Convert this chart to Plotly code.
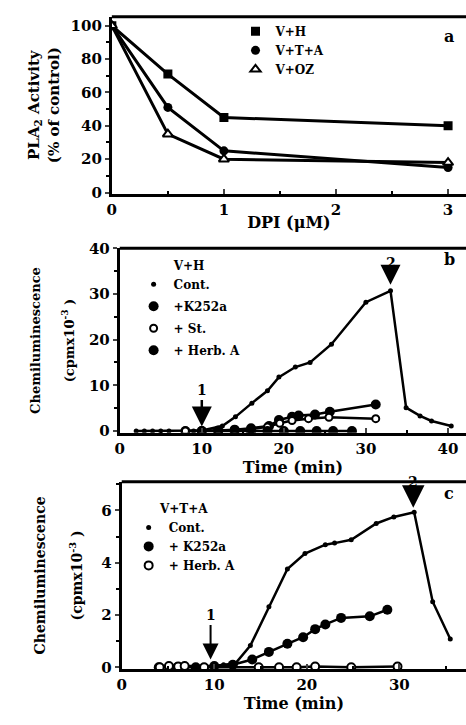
import plotly.graph_objects as go

# ---------- Panel a: PLA2 activity vs DPI ----------
dpi = [0, 0.5, 1, 3]
a_vh = [100, 71, 45, 40]
a_vta = [100, 51, 25, 15]
a_voz = [100, 35, 20, 18]

# ---------- Panel b: V+H chemiluminescence ----------
b_cont_t = [2, 3, 4, 5, 6, 8, 9, 10, 12.5, 14.1, 16.1, 18.0, 19.4, 21.4, 23.2, 25.8, 30.0, 33.0, 34.9, 36.6, 38.0, 40.4]
b_cont_v = [0, 0, 0, 0, 0, 0, 0, 0.1, 1.1, 3.1, 6.1, 8.8, 11.8, 14.0, 15.0, 19.0, 28.2, 30.7, 5.1, 3.3, 2.2, 1.1]
b_k252a_t = [8, 10, 12, 14, 16, 18.2, 19.4, 21.0, 21.8, 23.8, 25.6, 31.2]
b_k252a_v = [0, 0, 0.1, 0.3, 0.6, 1.1, 2.4, 3.1, 3.4, 3.6, 4.2, 5.8]
b_st_t = [8, 10, 12, 14, 16, 18, 19.5, 21, 23, 25.5, 31.2]
b_st_v = [0, 0, 0, 0.1, 0.4, 0.9, 1.7, 2.3, 2.7, 3.0, 2.7]
b_herb_t = [10, 12, 14, 16, 18, 20, 22, 24, 26, 28.3]
b_herb_v = [0, 0, 0, 0, 0, 0, 0, 0, 0, 0]

# ---------- Panel c: V+T+A chemiluminescence ----------
c_cont_t = [4, 5, 6, 7, 8, 9, 10, 11, 12.3, 13.9, 15.9, 17.9, 19.8, 22.0, 23.0, 24.8, 27.5, 29.4, 31.6, 33.6, 35.5]
c_cont_v = [0.05, 0.05, 0.05, 0.05, 0.05, 0.05, 0.05, 0.1, 0.15, 0.83, 2.32, 3.76, 4.35, 4.69, 4.75, 4.88, 5.5, 5.75, 5.93, 2.51, 1.08]
c_k252a_t = [4, 6, 8, 10, 12, 14.1, 15.9, 17.9, 19.6, 20.9, 22.0, 23.7, 26.8, 28.7]
c_k252a_v = [0, 0, 0, 0.05, 0.1, 0.3, 0.59, 0.9, 1.15, 1.46, 1.64, 1.89, 1.95, 2.2]
c_herb_t = [4.1, 5.1, 6.1, 6.8, 8.9, 14.8, 17.0, 18.9, 20.9, 24.8, 29.8]
c_herb_v = [0, 0.05, 0.03, 0.05, 0, 0, 0, 0, 0.03, 0, 0.03]

# tick values / labels
a_xticks = [0, 1, 2, 3]
a_yticks = [0, 20, 40, 60, 80, 100]
b_xticks = [0, 10, 20, 30, 40]
b_yticks = [0, 10, 20, 30, 40]
c_xticks = [0, 10, 20, 30]
c_yticks = [0, 2, 4, 6]

FONT = "DejaVu Serif"
BLK = "black"
W, H = 466, 725

fig = go.Figure()


def add_series(x, y, name, xa, ya, legend, symbol, size, lw, open_=False):
    fig.add_trace(go.Scatter(x=x, y=y, mode="lines", line=dict(color=BLK, width=lw),
                             xaxis=xa, yaxis=ya, showlegend=False, hoverinfo="skip"))
    fig.add_trace(go.Scatter(
        x=x, y=y, mode="markers", name=name, legend=legend, legendgroup=legend + name,
        marker=dict(symbol=symbol, size=size, color="white" if open_ else BLK,
                    line=dict(color=BLK, width=2 if open_ else 0)),
        xaxis=xa, yaxis=ya))


# panel a
add_series(dpi, a_vh, "V+H", "x", "y", "legend", "square", 9, 3)
add_series(dpi, a_vta, "V+T+A", "x", "y", "legend", "circle", 9, 3)
add_series(dpi, a_voz, "V+OZ", "x", "y", "legend", "triangle-up", 9, 3, open_=True)

# panel b
add_series(b_cont_t, b_cont_v, "Cont.", "x2", "y2", "legend2", "circle", 5, 2.5)
add_series(b_k252a_t, b_k252a_v, "+K252a", "x2", "y2", "legend2", "circle", 10, 2.5)
add_series(b_st_t, b_st_v, "+ St.", "x2", "y2", "legend2", "circle", 7, 2.5, open_=True)
add_series(b_herb_t, b_herb_v, "+ Herb. A", "x2", "y2", "legend2", "circle", 10, 2.5)

# panel c
add_series(c_cont_t, c_cont_v, "Cont.", "x3", "y3", "legend3", "circle", 5, 2.5)
add_series(c_k252a_t, c_k252a_v, "+ K252a", "x3", "y3", "legend3", "circle", 10, 2.5)
add_series(c_herb_t, c_herb_v, "+ Herb. A", "x3", "y3", "legend3", "circle", 8, 2.5, open_=True)


def px_x(p):
    return p / W


def px_y(p):
    return 1 - p / H


tickfont = dict(family=FONT, size=15, color=BLK, weight="bold")
titlefont = dict(family=FONT, size=16, color=BLK, weight="bold")


def xax(dom, rng, ticks, title, minor_dt, anchor):
    return dict(domain=dom, range=rng, tickvals=ticks, ticks="inside", ticklen=5, tickwidth=2,
                showline=True, linewidth=3, linecolor=BLK, showgrid=False, zeroline=False,
                tickfont=tickfont, anchor=anchor,
                minor=dict(dtick=minor_dt, ticks="inside", ticklen=3, tickwidth=1.5, tickcolor=BLK),
                title=dict(text=title, font=titlefont, standoff=0))


def yax(dom, rng, ticks, title, minor_dt, anchor, standoff, tsize):
    return dict(domain=dom, range=rng, tickvals=ticks, ticks="outside", ticklen=4, tickwidth=2,
                showline=True, linewidth=3, linecolor=BLK, showgrid=False, zeroline=False,
                tickfont=tickfont, anchor=anchor,
                minor=dict(dtick=minor_dt, ticks="outside", ticklen=3, tickwidth=1.5, tickcolor=BLK),
                title=dict(text=title, font=dict(family=FONT, size=tsize, color=BLK, weight="bold"),
                           standoff=standoff))


legfont = dict(family=FONT, size=12, color=BLK, weight="bold")

fig.update_layout(
    width=W, height=H, margin=dict(l=0, r=0, t=0, b=0),
    paper_bgcolor="white", plot_bgcolor="white",
    xaxis=xax([px_x(108), 1], [0, 3.16], a_xticks, "DPI (μM)", 0.5, "y"),
    yaxis=yax([px_y(189), px_y(8)], [-0.6, 105.3], a_yticks,
              "PLA<sub>2</sub> Activity<br>(% of control)", 10, "x", 8, 15),
    xaxis2=xax([px_x(116), 1], [0, 42.2], b_xticks, "Time (min)", 5, "y2"),
    yaxis2=yax([px_y(434), px_y(245)], [-0.4, 40], b_yticks,
               "Chemiluminescence<br> <br>(cpmx10<sup>-3</sup> )", 5, "x2", 12, 13),
    xaxis3=xax([px_x(118), 1], [0, 37.2], c_xticks, "Time (min)", 5, "y3"),
    yaxis3=yax([px_y(676), px_y(484)], [-0.07, 7.1], c_yticks,
               "Chemiluminescence<br> <br>(cpmx10<sup>-3</sup> )", 1, "x3", 16, 14),
    legend=dict(x=px_x(233), y=px_y(8), xanchor="left", yanchor="top",
                font=legfont, bgcolor="rgba(0,0,0,0)", tracegroupgap=0, itemsizing="trace"),
    legend2=dict(x=px_x(130), y=px_y(251), xanchor="left", yanchor="top",
                 font=legfont,
                 title=dict(text="V+H", side="top center", font=legfont),
                 bgcolor="rgba(0,0,0,0)", tracegroupgap=3, itemsizing="trace"),
    legend3=dict(x=px_x(125), y=px_y(500), xanchor="left", yanchor="top",
                 font=legfont,
                 title=dict(text="V+T+A", side="top center", font=legfont),
                 bgcolor="rgba(0,0,0,0)", tracegroupgap=0, itemsizing="trace"),
)

# top frame lines
for xr, yr in [("x", "y"), ("x2", "y2"), ("x3", "y3")]:
    fig.add_shape(type="line", xref=f"{xr} domain", yref=f"{yr} domain",
                  x0=0, x1=1, y0=1, y1=1, line=dict(color=BLK, width=3))

annfont = dict(family=FONT, size=14, color=BLK, weight="bold")
# panel letters
for letter, py in [("a", 28), ("b", 257), ("c", 496)]:
    fig.add_annotation(x=px_x(449), y=px_y(py), xref="paper", yref="paper", text=letter,
                       xanchor="center", yanchor="middle", showarrow=False,
                       font=dict(family=FONT, size=16, color=BLK, weight="bold"))

# arrows
fig.add_annotation(x=10, y=1.0, xref="x2", yref="y2", text="1", showarrow=True, ax=0, ay=-36,
                   arrowhead=2, arrowsize=1.6, arrowwidth=2.5, arrowcolor=BLK, font=annfont)
fig.add_annotation(x=33, y=32.0, xref="x2", yref="y2", text="2", showarrow=True, ax=0, ay=-22,
                   arrowhead=2, arrowsize=1.6, arrowwidth=2.5, arrowcolor=BLK, font=annfont)
fig.add_annotation(x=9.6, y=0.3, xref="x3", yref="y3", text="1", showarrow=True, ax=0, ay=-44,
                   arrowhead=2, arrowsize=1.6, arrowwidth=2, arrowcolor=BLK, font=annfont)
fig.add_annotation(x=31.5, y=6.1, xref="x3", yref="y3", text="2", showarrow=True, ax=0, ay=-26,
                   arrowhead=2, arrowsize=1.8, arrowwidth=2.5, arrowcolor=BLK, font=annfont)

fig.write_html("out.html", config={"displayModeBar": False},
               post_script="document.body.style.margin='0';document.body.style.overflow='hidden';")
